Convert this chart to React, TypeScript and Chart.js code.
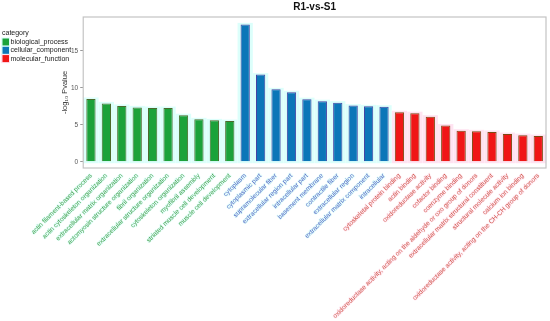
import React, { useEffect, useRef } from "react";
import { Chart, registerables } from "chart.js";

Chart.register(...registerables);

const categories = [
  "actin filament-based process",
  "actin cytoskeleton organization",
  "extracellular matrix organization",
  "actomyosin structure organization",
  "fibril organization",
  "extracellular structure organization",
  "cytoskeleton organization",
  "myofibril assembly",
  "striated muscle cell development",
  "muscle cell development",
  "cytoplasm",
  "cytoplasmic part",
  "supramolecular fiber",
  "extracellular region part",
  "intracellular part",
  "basement membrane",
  "contractile fiber",
  "extracellular region",
  "extracellular matrix component",
  "intracellular",
  "cytoskeletal protein binding",
  "actin binding",
  "oxidoreductase activity",
  "cofactor binding",
  "coenzyme binding",
  "oxidoreductase activity, acting on the aldehyde or oxo group of donors",
  "extracellular matrix structural constituent",
  "structural molecule activity",
  "calcium ion binding",
  "oxidoreductase activity, acting on the CH-CH group of donors",
];

const groups = [
  "biological_process", "biological_process", "biological_process", "biological_process", "biological_process",
  "biological_process", "biological_process", "biological_process", "biological_process", "biological_process",
  "cellular_component", "cellular_component", "cellular_component", "cellular_component", "cellular_component",
  "cellular_component", "cellular_component", "cellular_component", "cellular_component", "cellular_component",
  "molecular_function", "molecular_function", "molecular_function", "molecular_function", "molecular_function",
  "molecular_function", "molecular_function", "molecular_function", "molecular_function", "molecular_function",
];

const values = [
  8.5, 7.9, 7.55, 7.36, 7.27, 7.27, 6.3, 5.74, 5.6, 5.5,
  18.6, 11.8, 9.8, 9.4, 8.47, 8.2, 8.0, 7.6, 7.5, 7.45,
  6.7, 6.57, 6.1, 4.9, 4.2, 4.12, 4.03, 3.75, 3.6, 3.47,
];

const legendNames = ["biological_process", "cellular_component", "molecular_function"];
const yTicks = [0, 5, 10, 15];

const fillColors: Record<string, string> = {
  biological_process: "#1ba23a",
  cellular_component: "#0b76b8",
  molecular_function: "#f01616",
};
const borderColors: Record<string, string> = {
  biological_process: "#4c6a2c",
  cellular_component: "#4444a4",
  molecular_function: "#7c4a12",
};
const labelColors: Record<string, string> = {
  biological_process: "#46a04c",
  cellular_component: "#5064c4",
  molecular_function: "#d0564a",
};
const haloColors: Record<string, string> = {
  biological_process: "rgba(205,255,250,0.7)",
  cellular_component: "rgba(205,255,250,0.7)",
  molecular_function: "rgba(255,218,236,0.75)",
};
const labelHalo: Record<string, string> = {
  biological_process: "rgba(215,255,250,0.6)",
  cellular_component: "rgba(215,255,250,0.6)",
  molecular_function: "rgba(255,225,238,0.6)",
};

const haloPlugin = {
  id: "halo",
  beforeDatasetsDraw(chart: any) {
    const ctx = chart.ctx;
    const meta = chart.getDatasetMeta(0);
    ctx.save();
    meta.data.forEach((bar: any, i: number) => {
      const w = bar.width;
      ctx.fillStyle = haloColors[groups[i]];
      ctx.fillRect(bar.x - w / 2 - 3, bar.y - 1.5, w + 6, bar.base - bar.y + 3.5);
    });
    ctx.restore();
  },
  afterDraw(chart: any) {
    const ctx = chart.ctx;
    const a = chart.chartArea;
    ctx.save();
    ctx.strokeStyle = "#c4c4c4";
    ctx.lineWidth = 1.2;
    ctx.strokeRect(a.left, a.top, a.right - a.left, a.bottom - a.top);
    // legend
    ctx.font = "7px 'Liberation Sans', Arial, sans-serif";
    ctx.textBaseline = "middle";
    ctx.fillStyle = "#222";
    ctx.fillText("category", 2, 33);
    legendNames.forEach((n, i) => {
      const cy = 42 + i * 8.3;
      ctx.fillStyle = haloColors[n];
      ctx.fillRect(1, cy - 4.5, 9, 9);
      ctx.fillStyle = fillColors[n];
      ctx.fillRect(2.5, cy - 3.5, 6.5, 7);
      ctx.fillStyle = "#222";
      ctx.fillText(n, 10.5, cy);
    });
    ctx.restore();
  },
};

export default function App() {
  const ref = useRef<HTMLCanvasElement>(null);
  useEffect(() => {
    if (!ref.current) return;
    const chart = new Chart(ref.current, {
      type: "bar",
      data: {
        labels: categories,
        datasets: [
          {
            data: values,
            backgroundColor: groups.map((g) => fillColors[g]),
            borderColor: groups.map((g) => borderColors[g]),
            borderWidth: 1,
            barPercentage: 0.6,
            categoryPercentage: 1,
          },
        ],
      },
      options: {
        responsive: false,
        animation: false,
        layout: { padding: { left: 54, right: 4, top: 0, bottom: 0 } },
        plugins: {
          legend: { display: false },
          tooltip: { enabled: false },
          title: {
            display: true,
            text: "R1-vs-S1",
            fullSize: false,
            color: "#111",
            font: { size: 10, weight: "bold", family: "'Liberation Sans', Arial, sans-serif" },
            padding: { top: 1, bottom: 4 },
          },
        },
        scales: {
          x: {
            offset: true,
            grid: { display: false, drawOnChartArea: false, drawTicks: true, tickLength: 3, color: "#999" },
            border: { display: false },
            ticks: {
              autoSkip: false,
              maxRotation: 45,
              minRotation: 45,
              padding: 1,
              font: { size: 6.5, family: "'Liberation Sans', Arial, sans-serif" },
              color: (c: any) => labelColors[groups[c.index]],
              textStrokeColor: (c: any) => labelHalo[groups[c.index]],
              textStrokeWidth: 1.5,
            },
          },
          y: {
            min: -0.85,
            max: 19.6,
            afterBuildTicks: (s: any) => {
              s.ticks = yTicks.map((v) => ({ value: v }));
            },
            grid: { drawOnChartArea: false, drawTicks: true, tickLength: 3, color: "#999" },
            border: { display: false },
            ticks: {
              padding: 2,
              color: "#555",
              font: { size: 6.5, family: "'Liberation Sans', Arial, sans-serif" },
            },
            title: {
              display: true,
              text: "-log₁₀ Pvalue",
              color: "#333",
              font: { size: 7.5, family: "'Liberation Sans', Arial, sans-serif" },
              padding: { top: 6, bottom: 0 },
            },
          },
        },
      },
      plugins: [haloPlugin],
    });
    return () => chart.destroy();
  }, []);
  return (
    <div style={{ position: "fixed", left: 0, top: 0, width: 550, height: 321, background: "#fff" }}>
      <canvas ref={ref} width={550} height={321} />
    </div>
  );
}
